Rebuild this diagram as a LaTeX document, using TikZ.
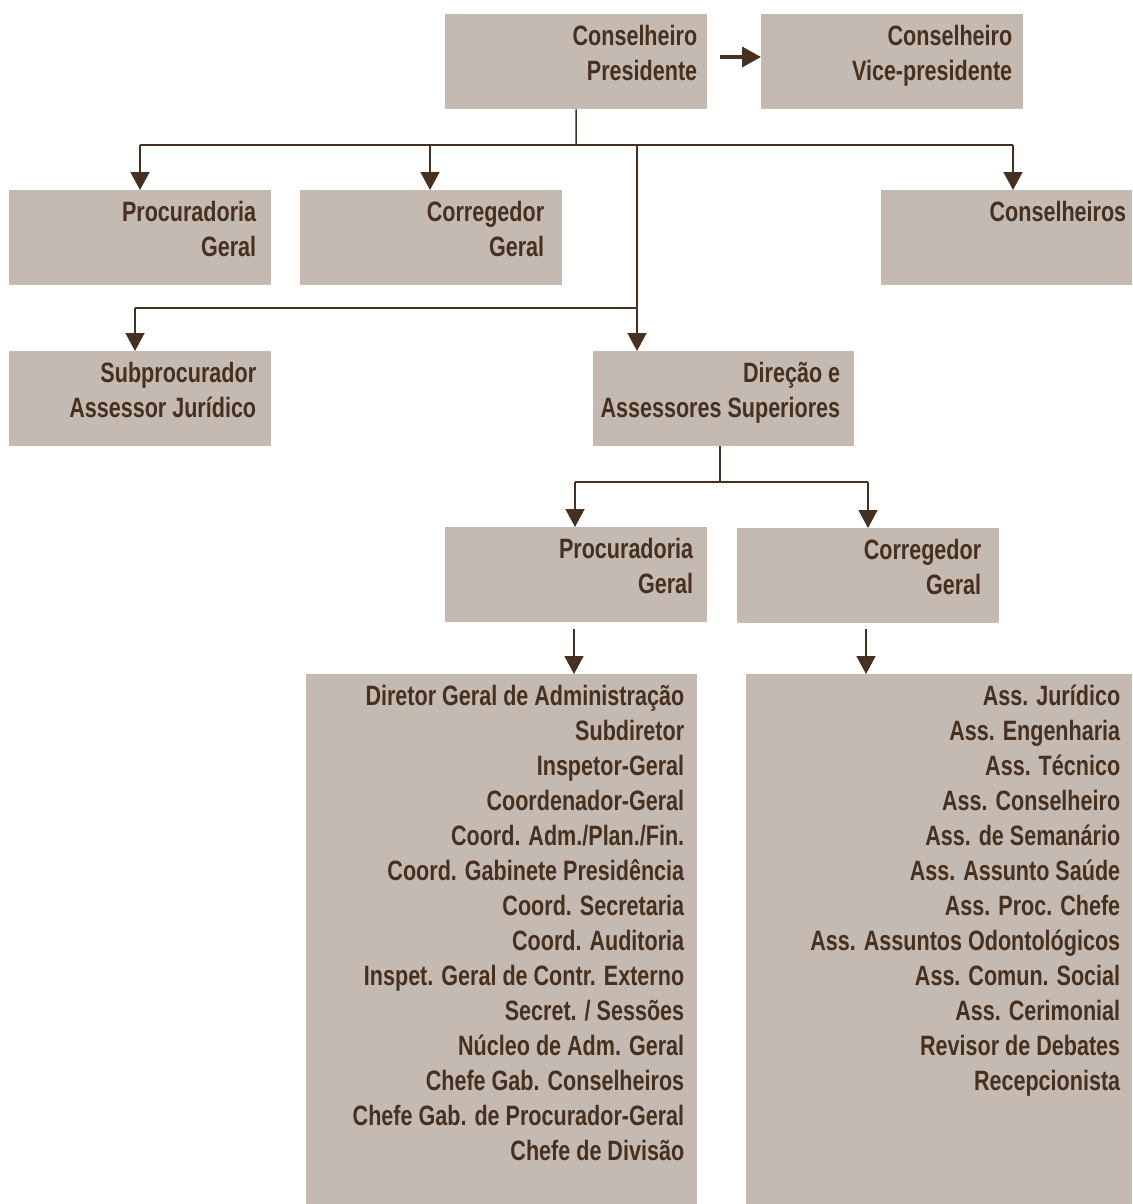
\documentclass[tikz,border=0pt]{standalone}
\usepackage{fontspec}
\newfontfamily\cond[FakeStretch=0.77]{Liberation Sans}
\usetikzlibrary{arrows.meta}
\definecolor{boxc}{HTML}{C5BAB1}
\definecolor{ink}{HTML}{46301F}
\begin{document}
\begin{tikzpicture}[x=1pt,y=-1pt,
  box/.style={fill=boxc, draw=none, anchor=north west, inner sep=0pt, minimum width=262pt, minimum height=95pt},
  lbl/.style={anchor=north east, inner sep=0pt, align=right, text=ink, font=\cond\bfseries\fontsize{28}{35}\selectfont},
  ln/.style={draw=ink, line width=1.5pt},
  arr/.style={ln, -{Triangle[width=19pt,length=18pt]}},
  bigarr/.style={draw=ink, line width=3.5pt, -{Triangle[width=20pt,length=19pt]}}]
\useasboundingbox (0,0) rectangle (1132,1204);
% boxes
\node[box] (pres) at (445,14) {};
\node[box] (vice) at (761,14) {};
\node[box] (proc1) at (9,190) {};
\node[box] (cor1) at (300,190) {};
\node[box, minimum width=251pt] (cons) at (881,190) {};
\node[box] (sub) at (9,351) {};
\node[box, minimum width=261pt] (dir) at (593,351) {};
\node[box] (proc2) at (445,527) {};
\node[box] (cor2) at (737,528) {};
\node[box, minimum width=391pt, minimum height=530pt] (listL) at (306,674) {};
\node[box, minimum width=386pt, minimum height=530pt] (listR) at (746,674) {};
% labels
\node[lbl] (tpres) at ([shift={(-10,11)}]pres.north east) {Conselheiro\\Presidente};
\node[lbl] (tvice) at ([shift={(-11,11)}]vice.north east) {Conselheiro\\Vice-presidente};
\node[lbl] (tproc1) at ([shift={(-15,11)}]proc1.north east) {Procuradoria\\Geral};
\node[lbl] (tcor1) at ([shift={(-18,11)}]cor1.north east) {Corregedor\\Geral};
\node[lbl] (tcons) at ([shift={(-6,11)}]cons.north east) {Conselheiros};
\node[lbl] (tsub) at ([shift={(-15,11)}]sub.north east) {Subprocurador\\Assessor Jurídico};
\node[lbl] (tdir) at ([shift={(-14,11)}]dir.north east) {Direção e\\Assessores Superiores};
\node[lbl] (tproc2) at ([shift={(-14,11)}]proc2.north east) {Procuradoria\\Geral};
\node[lbl] (tcor2) at ([shift={(-18,11)}]cor2.north east) {Corregedor\\Geral};
\node[lbl] (tlistL) at ([shift={(-13,11)}]listL.north east) {Diretor Geral de Administração\\Subdiretor\\Inspetor-Geral\\Coordenador-Geral\\Coord. Adm./Plan./Fin.\\Coord. Gabinete Presidência\\Coord. Secretaria\\Coord. Auditoria\\Inspet. Geral de Contr. Externo\\Secret. / Sessões\\Núcleo de Adm. Geral\\Chefe Gab. Conselheiros\\Chefe Gab. de Procurador-Geral\\Chefe de Divisão};
\node[lbl] (tlistR) at ([shift={(-12,11)}]listR.north east) {Ass. Jurídico\\Ass. Engenharia\\Ass. Técnico\\Ass. Conselheiro\\Ass. de Semanário\\Ass. Assunto Saúde\\Ass. Proc. Chefe\\Ass. Assuntos Odontológicos\\Ass. Comun. Social\\Ass. Cerimonial\\Revisor de Debates\\Recepcionista};
% connectors
\coordinate (pv) at (720,57);
\draw[bigarr] (pv) -- (vice.west |- pv);
\coordinate (hb) at (576,145);
\coordinate (hl) at (140,145);
\coordinate (hr) at (1013,145);
\coordinate (hm) at (637,145);
\draw[ln] (pres.south) -- (hb);
\draw[ln] (hl) -- (hr);
\draw[arr] (hl) -- (proc1.north -| hl);
\coordinate (hc) at (430,145);
\draw[arr] (hc) -- (cor1.north -| hc);
\draw[arr] (hr) -- (cons.north -| hr);
\draw[arr] (hm) -- (dir.north -| hm);
\coordinate (sm) at (637,308);
\coordinate (sl) at (135,308);
\draw[ln] (sm) -- (sl);
\draw[arr] (sl) -- (sub.north -| sl);
\coordinate (dj) at (720,482);
\coordinate (dl) at (575,482);
\coordinate (dr) at (868,482);
\draw[ln] (dir.south -| dj) -- (dj);
\draw[ln] (dl) -- (dr);
\draw[arr] (dl) -- (proc2.north -| dl);
\draw[arr] (dr) -- (cor2.north -| dr);
\coordinate (pa) at (574,629);
\coordinate (ca) at (866,629);
\draw[arr] (pa) -- (listL.north -| pa);
\draw[arr] (ca) -- (listR.north -| ca);
\end{tikzpicture}
\end{document}
